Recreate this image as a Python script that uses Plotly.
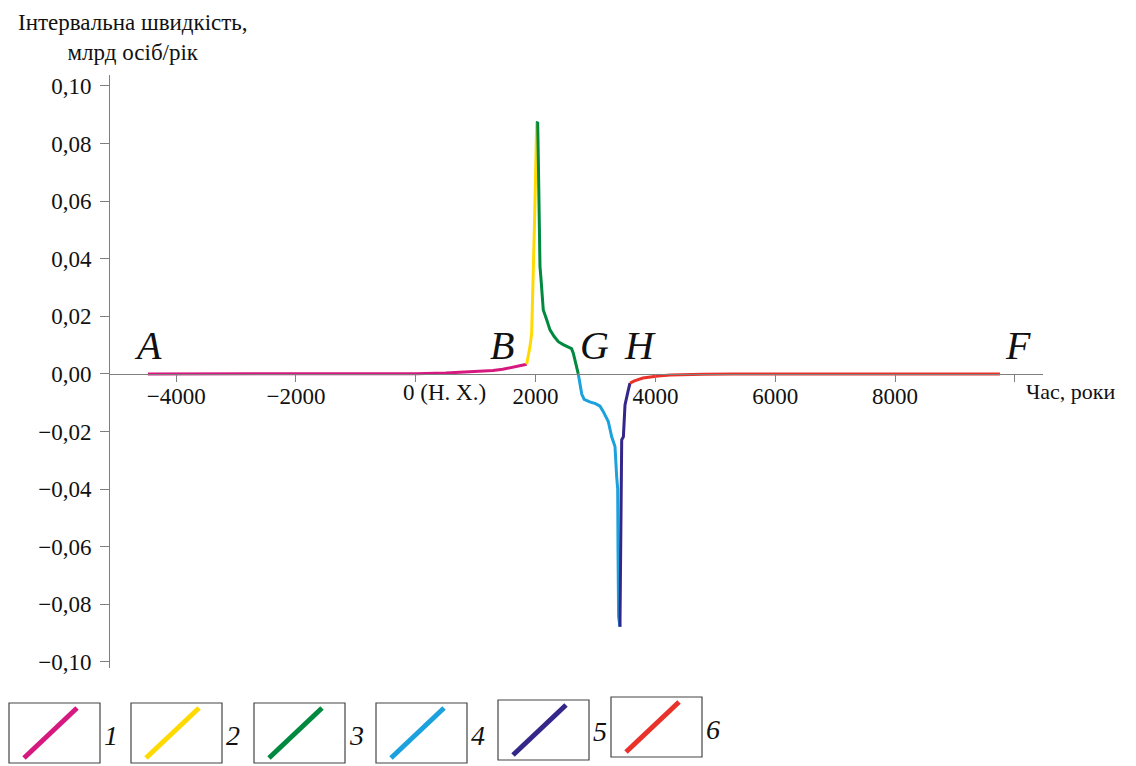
import plotly.graph_objects as go

# interval growth rate of world population, bn people per year, by phase
years_1 = [-4470, -3000, -2000, -1000, 0, 500, 855, 1100, 1289, 1450, 1572, 1720, 1851]
rate_1 = [0.0, 0.00001, 0.00002, 0.00004, 0.0001, 0.0003, 0.0006, 0.0009, 0.0012, 0.0016, 0.0022, 0.0029, 0.0034]

years_2 = [1851, 1880, 1906, 1934, 1942, 1950, 1985, 2018]
rate_2 = [0.0034, 0.0065, 0.0095, 0.0141, 0.0200, 0.0235, 0.055, 0.0870]

years_3 = [2018, 2034, 2045, 2056, 2066, 2073, 2090, 2110, 2128, 2185, 2240, 2310,
           2379, 2460, 2545, 2600, 2629, 2670, 2712]
rate_3 = [0.0870, 0.0875, 0.075, 0.057, 0.045, 0.0373, 0.033, 0.028, 0.0222, 0.0188,
          0.0153, 0.0130, 0.0112, 0.0102, 0.0095, 0.0088, 0.0072, 0.004, 0.0]

years_4 = [2712, 2740, 2770, 2810, 2860, 2903, 3000, 3075, 3130, 3213, 3270, 3325,
           3353, 3370, 3375, 3385, 3408]
rate_4 = [0.0, -0.0035, -0.0070, -0.0088, -0.0094, -0.0097, -0.0103, -0.0112, -0.0131,
          -0.0165, -0.0218, -0.0252, -0.0357, -0.0400, -0.0600, -0.0843, -0.0878]

years_5 = [3408, 3437, 3465, 3492, 3547, 3575]
rate_5 = [-0.0878, -0.0229, -0.0218, -0.0108, -0.0056, -0.0032]

years_6 = [3575, 3650, 3792, 3900, 4043, 4250, 4460, 4800, 5300, 6000, 7000, 8000, 9750]
rate_6 = [-0.0032, -0.0024, -0.0014, -0.0010, -0.0007, -0.0004, -0.0002, -0.0001,
          -0.00004, -0.00001, 0.0, 0.0, 0.0]

series_names = ["1", "2", "3", "4", "5", "6"]
series_colors = ["#D6197F", "#FFDA00", "#00893F", "#1BA1DE", "#33278A", "#E8322A"]

x_tickvals = [-4000, -2000, 0, 2000, 4000, 6000, 8000, 10000]
x_ticktext = ["\u22124000", "\u22122000", "", "2000", "4000", "6000", "8000", ""]
zero_label = "0 (Н. Х.)"
y_tickvals = [0.10, 0.08, 0.06, 0.04, 0.02, 0.0, -0.02, -0.04, -0.06, -0.08, -0.10]
y_ticktext = ["0,10", "0,08", "0,06", "0,04", "0,02", "0,00",
              "\u22120,02", "\u22120,04", "\u22120,06", "\u22120,08", "\u22120,10"]

point_labels = ["A", "B", "G", "H", "F"]

FONT = "Liberation Serif"
INK = "#111111"
OFF = 8                                # page body margin
W, H = 1136 - OFF, 766 - OFF
PL, PR, PT, PB = 110, 1043, 75, 668    # plot area in screen pixels
XMIN, XMAX = -5104, 10469
YMIN, YMAX = -0.1021, 0.1038


def px(x):
    return (x - PL) / (PR - PL)


def py(y):
    return (PB - y) / (PB - PT)


fig = go.Figure()

all_years = [years_1, years_2, years_3, years_4, years_5, years_6]
all_rates = [rate_1, rate_2, rate_3, rate_4, rate_5, rate_6]
for yrs, rts, name, col in zip(all_years, all_rates, series_names, series_colors):
    fig.add_trace(go.Scatter(x=yrs, y=rts, mode="lines", name=name,
                             line=dict(color=col, width=3), showlegend=False))

# point letters on the curve
for lab, xp in zip(point_labels, [148, 502, 594, 640, 1018]):
    fig.add_annotation(xref="paper", yref="paper", x=px(xp), y=py(345),
                       text=f"<i>{lab}</i>", showarrow=False,
                       font=dict(family=FONT, size=40, color=INK),
                       xanchor="center", yanchor="middle")

# axis titles
fig.add_annotation(xref="paper", yref="paper", x=px(133), y=py(37),
                   text="Інтервальна швидкість,<br>млрд осіб/рік", showarrow=False,
                   font=dict(family=FONT, size=23, color=INK),
                   xanchor="center", yanchor="middle", align="center")
fig.add_annotation(xref="paper", yref="paper", x=px(1024), y=py(391),
                   text="Час, роки", showarrow=False,
                   font=dict(family=FONT, size=22, color=INK),
                   xanchor="left", yanchor="middle")
fig.add_annotation(xref="paper", yref="paper", x=px(401), y=py(393),
                   text=zero_label, showarrow=False,
                   font=dict(family=FONT, size=23, color=INK),
                   xanchor="left", yanchor="middle")

# legend boxes at the bottom
box_left = [9, 131, 254, 376, 498, 611]
box_top = [703, 703, 703, 703, 700, 697]
for name, col, bl, bt in zip(series_names, series_colors, box_left, box_top):
    bw, bh = 91, 60
    fig.add_shape(type="rect", xref="paper", yref="paper",
                  x0=px(bl), x1=px(bl + bw), y0=py(bt), y1=py(bt + bh),
                  line=dict(color="#444444", width=1.2))
    fig.add_shape(type="line", xref="paper", yref="paper",
                  x0=px(bl + 15), y0=py(bt + bh - 5), x1=px(bl + 68), y1=py(bt + 5),
                  line=dict(color=col, width=5))
    fig.add_annotation(xref="paper", yref="paper", x=px(bl + 102), y=py(bt + 32),
                       text=f"<i>{name}</i>", showarrow=False,
                       font=dict(family=FONT, size=28, color=INK),
                       xanchor="center", yanchor="middle")

fig.update_layout(
    width=W, height=H,
    margin=dict(l=PL - OFF, r=1136 - PR, t=PT - OFF, b=766 - PB, pad=0),
    paper_bgcolor="white", plot_bgcolor="white",
    showlegend=False,
)
fig.update_xaxes(range=[XMIN, XMAX], tickvals=x_tickvals, ticktext=x_ticktext,
                 showgrid=False, zeroline=False, showline=True, linecolor="#7f7f7f",
                 linewidth=1, ticks="outside", ticklen=7, tickcolor="#7f7f7f",
                 ticklabelstandoff=-6,
                 anchor="free", position=(0 - YMIN) / (YMAX - YMIN),
                 tickfont=dict(family=FONT, size=23, color=INK))
fig.update_yaxes(range=[YMIN, YMAX], tickvals=y_tickvals, ticktext=y_ticktext,
                 showgrid=False, zeroline=False, showline=True, linecolor="#7f7f7f",
                 linewidth=1, ticks="outside", ticklen=9, tickcolor="#7f7f7f",
                 ticklabelstandoff=4,
                 tickfont=dict(family=FONT, size=23, color=INK))

fig.write_html("out.html")
